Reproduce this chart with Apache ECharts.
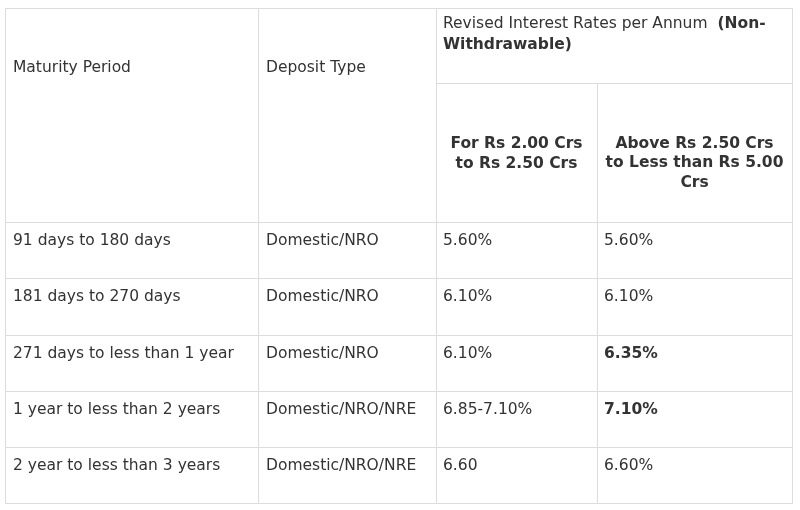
<!DOCTYPE html>
<html><head><meta charset="utf-8">
<script src="https://cdn.jsdelivr.net/npm/echarts@6/dist/echarts.min.js"></script>
<style>html,body{margin:0;background:#fff}#c{width:800px;height:510px}</style>
</head><body><div id="c"></div>
<script>
const maturity = ["91 days to 180 days","181 days to 270 days","271 days to less than 1 year","1 year to less than 2 years","2 year to less than 3 years"];
const depositType = ["Domestic/NRO","Domestic/NRO","Domestic/NRO","Domestic/NRO/NRE","Domestic/NRO/NRE"];
const rate1 = ["5.60%","6.10%","6.10%","6.85-7.10%","6.60"];
const rate2 = ["5.60%","6.10%","6.35%","7.10%","6.60%"];
const rate2Bold = [false,false,true,true,false];
const headers = ["Maturity Period","Deposit Type"];
const subHeaders = ["For Rs 2.00 Crs\nto Rs 2.50 Crs","Above Rs 2.50 Crs\nto Less than Rs 5.00\nCrs"];

const colX = [5,258,436,597,792];
const rowY = [8,222,278,335,391,447,503];
const subY = 83;
const FONT = "DejaVu Sans, Verdana, sans-serif";
const FS = '15.5px ';
const C = "#333", B = "#dcdcdc";
const g = [];
function line(x1,y1,x2,y2){g.push({type:'line',shape:{x1,y1,x2,y2},style:{stroke:B,lineWidth:1}});}
function text(x,y,t,opt={}){g.push({type:'text',x,y,style:Object.assign({text:t,fill:C,font:(opt.bold?'bold ':'')+FS+FONT,textVerticalAlign:'middle',textAlign:'left',lineHeight:19.5},opt.style||{})});}
rowY.forEach(y=>line(colX[0]+.5,y+.5,colX[4]+.5,y+.5));
line(colX[2]+.5,subY+.5,colX[4]+.5,subY+.5);
colX.forEach((x,i)=>line(x+.5,(i==3?subY:rowY[0])+.5,x+.5,rowY[6]+.5));
text(13,68,headers[0]);text(266,68,headers[1]);
g.push({type:'text',x:443,y:24,style:{text:'{n|Revised Interest Rates per Annum}   {b|(Non-}',textVerticalAlign:'middle',rich:{n:{fill:C,font:FS+FONT},b:{fill:C,font:'bold '+FS+FONT}}}});
text(443,45,'Withdrawable)',{bold:true});
text((colX[2]+colX[3])/2,154,subHeaders[0],{bold:true,style:{textAlign:'center'}});
text((colX[3]+colX[4])/2,163,subHeaders[1],{bold:true,style:{textAlign:'center'}});
maturity.forEach((m,i)=>{
  const y=(rowY[i+1]+rowY[i+2])/2-9.5;
  text(13,y,m);text(266,y,depositType[i]);text(443,y,rate1[i]);
  text(604,y,rate2[i],{bold:rate2Bold[i]});
});
const chart = echarts.init(document.getElementById('c'));
chart.setOption({backgroundColor:'#fff',graphic:g});
</script></body></html>
